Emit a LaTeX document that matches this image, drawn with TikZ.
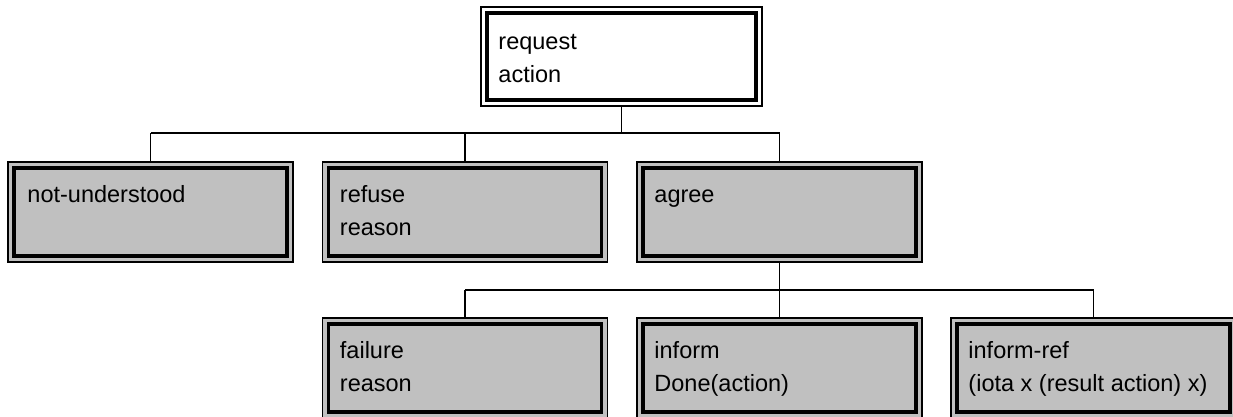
\documentclass[tikz,border=0pt]{standalone}
\usepackage{fontspec}
\setmainfont{Liberation Sans}
\definecolor{boxgray}{HTML}{C0C0C0}
\begin{document}
\begin{tikzpicture}[x=1pt,y=-1pt,
  boxbase/.style={draw, line width=1.5pt, minimum width=285pt, minimum height=100pt, inner sep=0pt,
    path picture={\draw[line width=3.2pt]
      ([xshift=6pt,yshift=-6pt]path picture bounding box.north west) rectangle
      ([xshift=-6pt,yshift=6pt]path picture bounding box.south east);}},
  graybox/.style={boxbase, fill=boxgray},
  whitebox/.style={boxbase, fill=white, minimum width=281pt, minimum height=99pt},
  txt/.style={anchor=north west, inner sep=0pt, align=left, font=\fontsize{23.5}{33}\selectfont},
  conn/.style={line width=1.3pt},
  conntwo/.style={line width=1.8pt}
]
\useasboundingbox (0,0) rectangle (1233,417);
% boxes
\node[whitebox] (req) at (621.5,56.5) {};
\node[graybox] (nu) at (150.5,212) {};
\node[graybox] (ref) at (465,212) {};
\node[graybox] (agr) at (779.5,212) {};
\node[graybox] (fail) at (465,368) {};
\node[graybox] (inf) at (779.5,368) {};
\node[graybox] (infr) at (1093.5,368) {};
% texts
\node[txt] (treq) at ([shift={(18,19.5)}]req.north west) {\strut request\\action};
\node[txt] (tnu) at ([shift={(20,17.9)}]nu.north west) {\strut not-understood};
\node[txt] (tref) at ([shift={(18,17.9)}]ref.north west) {\strut refuse\\reason};
\node[txt] (tagr) at ([shift={(18,17.9)}]agr.north west) {\strut agree};
\node[txt] (tfail) at ([shift={(18,17.9)}]fail.north west) {\strut failure\\reason};
\node[txt] (tinf) at ([shift={(18,17.9)}]inf.north west) {\strut inform\\Done(action)};
\node[txt] (tinfr) at ([shift={(18,17.9)}]infr.north west) {\strut inform-ref\\(iota x (result action) x)};
% connectors level 1
\coordinate (bus1) at (0,133);
\coordinate (bus2) at (0,290);
\draw[conn] (req.south) -- (req.south |- bus1);
\draw[conn] (nu.north |- bus1) -- (agr.north |- bus1);
\draw[conn] (nu.north |- bus1) -- (nu.north);
\draw[conn] (ref.north |- bus1) -- (ref.north);
\draw[conn] (agr.north |- bus1) -- (agr.north);
% connectors level 2
\draw[conntwo] (agr.south) -- (agr.south |- bus2);
\draw[conntwo] (fail.north |- bus2) -- (infr.north |- bus2);
\draw[conn] (fail.north |- bus2) -- (fail.north);
\draw[conn] (inf.north |- bus2) -- (inf.north);
\draw[conn] (infr.north |- bus2) -- (infr.north);
\end{tikzpicture}
\end{document}
